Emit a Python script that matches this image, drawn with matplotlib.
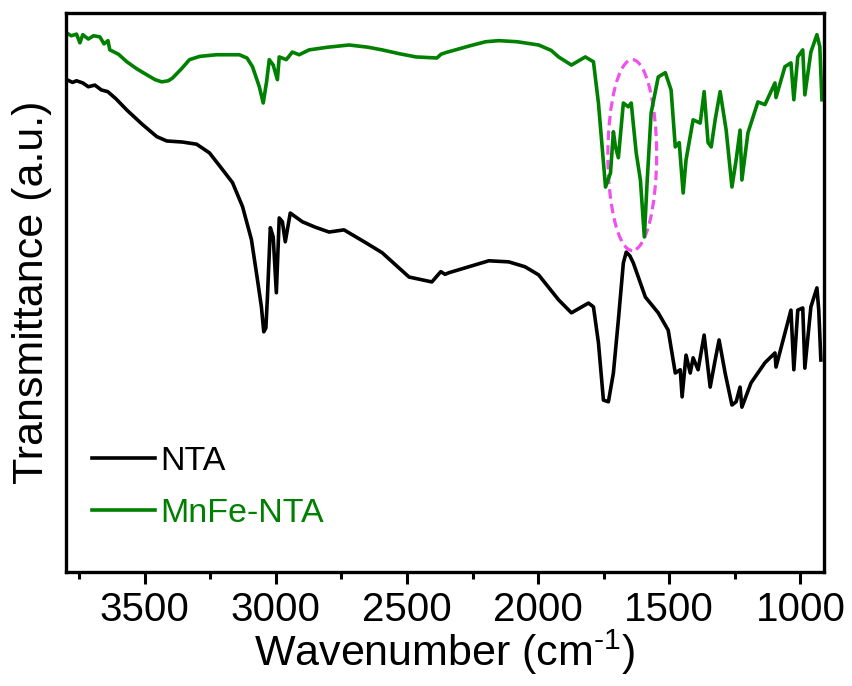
import matplotlib
matplotlib.use("Agg")
import matplotlib.pyplot as plt
from matplotlib.patches import Ellipse
from matplotlib.ticker import MultipleLocator, NullLocator

plt.rcParams['font.family'] = ['Liberation Sans', 'DejaVu Sans']
plt.rcParams['mathtext.fontset'] = 'custom'
plt.rcParams['mathtext.rm'] = 'Liberation Sans'

# ─── DATOS ────────────────────────────────────────────────────
wn_nta = [3797, 3775, 3760, 3736, 3715, 3690, 3665, 3641, 3610, 3568, 3510, 3454,
          3416, 3356, 3302, 3253, 3203, 3165, 3127, 3093, 3070, 3055, 3046, 3038,
          3032, 3021, 3010, 2998, 2987, 2975, 2964, 2945, 2899, 2850, 2797, 2740,
          2656, 2595, 2492, 2405, 2371, 2355, 2340, 2264, 2188, 2112, 2050, 1998,
          1960, 1922, 1873, 1808, 1789, 1770, 1751, 1732, 1713, 1694, 1675, 1664,
          1650, 1637, 1591, 1542, 1504, 1477, 1458, 1451, 1436, 1420, 1409, 1390,
          1367, 1344, 1325, 1310, 1287, 1261, 1245, 1230, 1223, 1188, 1135, 1097,
          1093, 1036, 1025, 1010, 991, 983, 960, 937, 930, 922]
t_nta = [90.8, 90.3, 90.6, 90.2, 89.5, 89.8, 88.9, 88.6, 87.3, 85.2, 82.6, 80.3,
         79.5, 79.3, 78.9, 77.3, 74.2, 71.8, 67.4, 61.3, 53.9, 48.9, 44.3, 45.0,
         50.7, 63.5, 61.8, 51.5, 65.3, 64.6, 60.9, 66.2, 64.6, 63.6, 62.7, 63.1,
         60.7, 58.9, 54.4, 53.5, 55.4, 54.9, 55.2, 56.3, 57.4, 57.2, 56.3, 54.8,
         52.5, 50.2, 47.8, 49.6, 48.9, 42.3, 31.7, 31.4, 36.7, 46.5, 57.0, 59.0,
         58.3, 57.0, 50.7, 47.8, 44.6, 36.7, 37.3, 32.3, 40.0, 36.7, 39.5, 37.3,
         43.7, 34.1, 39.1, 42.8, 36.7, 30.8, 31.4, 34.1, 30.4, 34.9, 38.6, 40.4,
         37.8, 48.3, 37.3, 48.3, 48.7, 37.6, 48.9, 52.4, 48.3, 39.1]

wn_mnfe = [3797, 3780, 3760, 3747, 3736, 3715, 3695, 3671, 3655, 3640, 3633, 3600,
           3568, 3530, 3492, 3460, 3435, 3410, 3394, 3360, 3329, 3290, 3226, 3139,
           3110, 3089, 3070, 3063, 3048, 3035, 3025, 3010, 2994, 2987, 2960, 2937,
           2911, 2873, 2800, 2721, 2650, 2595, 2530, 2466, 2386, 2370, 2352, 2300,
           2264, 2200, 2150, 2080, 1998, 1950, 1922, 1873, 1820, 1789, 1770, 1743,
           1724, 1713, 1705, 1694, 1675, 1656, 1645, 1626, 1610, 1595, 1584, 1569,
           1542, 1515, 1493, 1477, 1462, 1447, 1436, 1409, 1382, 1367, 1352, 1340,
           1325, 1306, 1283, 1261, 1245, 1230, 1223, 1200, 1162, 1135, 1097, 1093,
           1059, 1036, 1025, 1010, 991, 983, 960, 937, 926, 918]
t_mnfe = [99.4, 98.9, 99.2, 97.6, 99.1, 98.3, 98.9, 98.7, 97.4, 98.0, 96.3, 95.5,
          94.1, 92.8, 91.7, 90.8, 90.4, 90.6, 91.1, 92.8, 94.5, 95.1, 95.4, 95.4,
          94.8, 93.2, 90.5, 89.5, 86.5, 90.5, 94.5, 93.5, 90.8, 95.0, 94.5, 95.9,
          95.4, 96.3, 96.8, 97.2, 96.8, 96.3, 95.6, 95.0, 94.8, 95.5, 95.8, 96.5,
          97.0, 97.8, 98.0, 97.8, 97.2, 96.2, 95.0, 93.5, 95.0, 94.1, 86.5, 71.0,
          73.6, 81.2, 78.4, 76.4, 86.5, 85.8, 86.5, 77.3, 72.3, 61.8, 72.3, 84.7,
          91.3, 92.1, 88.9, 78.4, 79.2, 69.9, 76.0, 83.4, 82.8, 88.6, 79.2, 78.4,
          83.4, 88.6, 81.5, 71.0, 76.0, 81.5, 72.3, 81.0, 86.7, 86.2, 90.2, 87.5,
          93.2, 93.9, 87.1, 95.0, 96.3, 88.0, 95.9, 99.1, 96.9, 87.1]

etiquetas = ['NTA', 'MnFe-NTA']
colores = ['black', '#008000']

# elipse que marca la banda ~1590 cm-1
ELIPSE_CENTRO = (1641, 76.9)
ELIPSE_ANCHO = 186
ELIPSE_ALTO = 35.2
# ─────────────────────────────────────────────────────────────

fig = plt.figure(figsize=(8.53, 6.86), dpi=100)
ax = fig.add_axes([66 / 853, 114 / 686, 758 / 853, 559 / 686])

ax.plot(wn_nta, t_nta, color=colores[0], lw=2.6, label=etiquetas[0],
        solid_joinstyle='round')
ax.plot(wn_mnfe, t_mnfe, color=colores[1], lw=2.6, label=etiquetas[1],
        solid_joinstyle='round')

ax.add_patch(Ellipse(ELIPSE_CENTRO, ELIPSE_ANCHO, ELIPSE_ALTO, fill=False,
                     edgecolor='#f050f0', lw=2.3, linestyle=(0, (3, 1.6))))

ax.set_xlim(3800, 910)
ax.set_ylim(0, 103.1)
ax.xaxis.set_major_locator(MultipleLocator(500))
ax.xaxis.set_minor_locator(MultipleLocator(250))
ax.yaxis.set_major_locator(NullLocator())

for s in ax.spines.values():
    s.set_linewidth(2.4)
ax.tick_params(axis='x', which='major', direction='out', length=8.5, width=2.2,
               labelsize=29, pad=5)
ax.tick_params(axis='x', which='minor', direction='out', length=5, width=2.2)
ax.tick_params(axis='y', left=False, labelleft=False)

# superíndice con guion (no signo menos)
ax.set_xlabel('Wavenumber (cm$^{\\text{-1}}$)', fontsize=31, labelpad=-1)
ax.set_ylabel('Transmittance (a.u.)', fontsize=31, labelpad=10)

ax.legend(loc='upper left', bbox_to_anchor=(0.034, 0.225), frameon=False,
          fontsize=24.5, handlelength=1.85, handletextpad=0.15, labelspacing=0.6,
          borderpad=0, borderaxespad=0, labelcolor='linecolor')

fig.savefig('out.png', dpi=100)
